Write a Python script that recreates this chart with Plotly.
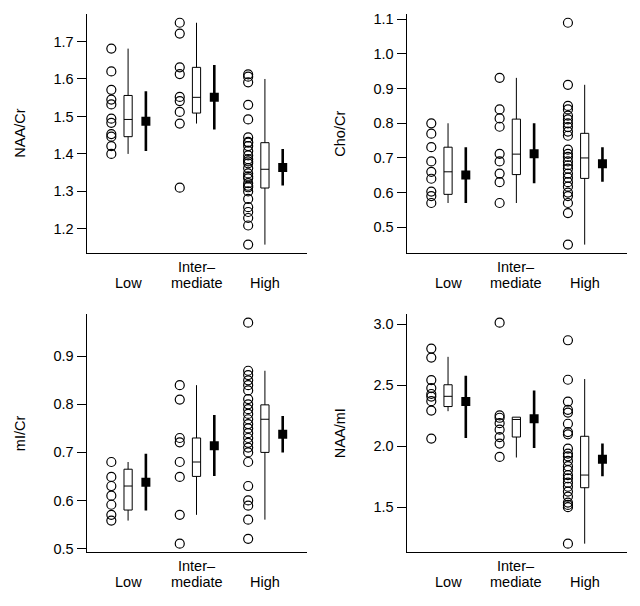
import plotly.graph_objects as go

groups = ["Low", "Inter–<br>mediate", "High"]
group_pos = [1, 2, 3]

# ---- NAA/Cr ----
naa_cr_low = [1.681, 1.620, 1.571, 1.545, 1.532, 1.494, 1.483, 1.453, 1.446, 1.421, 1.400]
naa_cr_int = [1.750, 1.721, 1.631, 1.613, 1.552, 1.541, 1.512, 1.481, 1.310]
naa_cr_high = [1.612, 1.606, 1.591, 1.531, 1.492, 1.444, 1.432, 1.421, 1.408, 1.396, 1.386,
               1.375, 1.362, 1.348, 1.335, 1.322, 1.311, 1.300, 1.280, 1.258, 1.245, 1.229,
               1.209, 1.158, 1.430, 1.380, 1.340, 1.315]
naa_cr_q1 = [1.446, 1.509, 1.309]
naa_cr_med = [1.492, 1.551, 1.359]
naa_cr_q3 = [1.556, 1.631, 1.430]
naa_cr_lo = [1.400, 1.481, 1.158]
naa_cr_hi = [1.681, 1.750, 1.600]
naa_cr_mean = [1.487, 1.551, 1.364]
naa_cr_ci_lo = [1.408, 1.465, 1.316]
naa_cr_ci_hi = [1.567, 1.637, 1.413]

# ---- Cho/Cr ----
cho_cr_low = [0.800, 0.770, 0.731, 0.690, 0.660, 0.640, 0.603, 0.590, 0.570]
cho_cr_int = [0.931, 0.840, 0.814, 0.790, 0.712, 0.690, 0.655, 0.630, 0.570]
cho_cr_high = [1.090, 0.911, 0.850, 0.840, 0.822, 0.811, 0.800, 0.789, 0.776, 0.764, 0.724,
               0.712, 0.703, 0.690, 0.679, 0.669, 0.655, 0.643, 0.630, 0.617, 0.600, 0.590,
               0.570, 0.541, 0.450]
cho_cr_q1 = [0.595, 0.652, 0.641]
cho_cr_med = [0.660, 0.711, 0.700]
cho_cr_q3 = [0.731, 0.812, 0.771]
cho_cr_lo = [0.570, 0.570, 0.450]
cho_cr_hi = [0.800, 0.931, 0.911]
cho_cr_mean = [0.651, 0.712, 0.683]
cho_cr_ci_lo = [0.570, 0.627, 0.631]
cho_cr_ci_hi = [0.731, 0.800, 0.731]

# ---- mI/Cr ----
mi_cr_low = [0.680, 0.649, 0.630, 0.610, 0.591, 0.570, 0.558]
mi_cr_int = [0.840, 0.810, 0.730, 0.721, 0.680, 0.649, 0.570, 0.510]
mi_cr_high = [0.970, 0.870, 0.861, 0.850, 0.840, 0.829, 0.811, 0.800, 0.790, 0.780, 0.769,
              0.759, 0.750, 0.740, 0.730, 0.720, 0.710, 0.700, 0.680, 0.630, 0.600, 0.589,
              0.560, 0.520]
mi_cr_q1 = [0.580, 0.650, 0.700]
mi_cr_med = [0.630, 0.680, 0.769]
mi_cr_q3 = [0.665, 0.730, 0.799]
mi_cr_lo = [0.558, 0.570, 0.560]
mi_cr_hi = [0.680, 0.840, 0.870]
mi_cr_mean = [0.638, 0.714, 0.738]
mi_cr_ci_lo = [0.579, 0.651, 0.700]
mi_cr_ci_hi = [0.697, 0.778, 0.776]

# ---- NAA/mI ----
naa_mi_low = [2.802, 2.728, 2.543, 2.478, 2.429, 2.408, 2.370, 2.293, 2.063]
naa_mi_int = [3.014, 2.253, 2.234, 2.190, 2.136, 2.076, 2.022, 1.913]
naa_mi_high = [2.870, 2.546, 2.367, 2.299, 2.277, 2.185, 2.117, 2.098, 1.981, 1.940, 1.918,
               1.880, 1.837, 1.804, 1.764, 1.736, 1.701, 1.668, 1.628, 1.587, 1.538, 1.519,
               1.500, 1.201]
naa_mi_q1 = [2.326, 2.076, 1.660]
naa_mi_med = [2.410, 2.220, 1.764]
naa_mi_q3 = [2.505, 2.239, 2.082]
naa_mi_lo = [2.288, 1.908, 1.201]
naa_mi_hi = [2.734, 2.239, 2.552]
naa_mi_mean = [2.367, 2.226, 1.894]
naa_mi_ci_lo = [2.068, 1.986, 1.755]
naa_mi_ci_hi = [2.579, 2.457, 2.022]

y_titles = ["NAA/Cr", "Cho/Cr", "mI/Cr", "NAA/mI"]
y_dticks = [0.1, 0.1, 0.1, 0.5]

panels = [
    dict(pts=[naa_cr_low, naa_cr_int, naa_cr_high], q1=naa_cr_q1, med=naa_cr_med, q3=naa_cr_q3,
         lo=naa_cr_lo, hi=naa_cr_hi, mean=naa_cr_mean, cil=naa_cr_ci_lo, cih=naa_cr_ci_hi),
    dict(pts=[cho_cr_low, cho_cr_int, cho_cr_high], q1=cho_cr_q1, med=cho_cr_med, q3=cho_cr_q3,
         lo=cho_cr_lo, hi=cho_cr_hi, mean=cho_cr_mean, cil=cho_cr_ci_lo, cih=cho_cr_ci_hi),
    dict(pts=[mi_cr_low, mi_cr_int, mi_cr_high], q1=mi_cr_q1, med=mi_cr_med, q3=mi_cr_q3,
         lo=mi_cr_lo, hi=mi_cr_hi, mean=mi_cr_mean, cil=mi_cr_ci_lo, cih=mi_cr_ci_hi),
    dict(pts=[naa_mi_low, naa_mi_int, naa_mi_high], q1=naa_mi_q1, med=naa_mi_med, q3=naa_mi_q3,
         lo=naa_mi_lo, hi=naa_mi_hi, mean=naa_mi_mean, cil=naa_mi_ci_lo, cih=naa_mi_ci_hi),
]

W, H = 640, 606
# panel plotting regions in pixels (left, right, top, bottom)
regions = [(86.7, 307, 12, 254), (406.7, 626.7, 12, 254),
           (86.7, 307, 315, 556), (406.7, 626.7, 315, 556)]

FONT = "Liberation Sans, Arial, Helvetica, sans-serif"
FS = 14.5
fig = go.Figure()
layout = dict(width=W, height=H, margin=dict(l=0, r=0, t=0, b=0),
              paper_bgcolor="white", plot_bgcolor="white", showlegend=False,
              font=dict(family=FONT, size=FS, color="black"))
annotations = []

for i, p in enumerate(panels):
    n = i + 1
    xa = "x" if n == 1 else f"x{n}"
    ya = "y" if n == 1 else f"y{n}"
    # points
    for g, vals in enumerate(p["pts"]):
        fig.add_trace(go.Scatter(x=[group_pos[g] - 0.245] * len(vals), y=vals, mode="markers",
                                 marker=dict(symbol="circle-open", size=9, color="black",
                                             line=dict(width=1.2, color="black")),
                                 xaxis=xa, yaxis=ya, hoverinfo="skip"))
    # boxes
    fig.add_trace(go.Box(x=group_pos, q1=p["q1"], median=p["med"], q3=p["q3"],
                         lowerfence=p["lo"], upperfence=p["hi"], width=0.12,
                         whiskerwidth=0, boxpoints=False, fillcolor="white",
                         line=dict(color="black", width=1), xaxis=xa, yaxis=ya))
    # mean and CI
    fig.add_trace(go.Scatter(x=[gp + 0.26 for gp in group_pos], y=p["mean"], mode="markers",
                             marker=dict(symbol="square", size=9, color="black"),
                             error_y=dict(type="data", symmetric=False,
                                          array=[h - m for h, m in zip(p["cih"], p["mean"])],
                                          arrayminus=[m - l for m, l in zip(p["mean"], p["cil"])],
                                          thickness=2.6, width=0, color="black"),
                             xaxis=xa, yaxis=ya))
    allv = [v for vals in p["pts"] for v in vals]
    lo, hi = min(allv), max(allv)
    pad = 0.04 * (hi - lo)
    L, R, T, B = regions[i]
    xkey = "xaxis" if n == 1 else f"xaxis{n}"
    ykey = "yaxis" if n == 1 else f"yaxis{n}"
    layout[xkey] = dict(domain=[L / W, R / W], range=[0.395, 3.615], showline=True,
                        linecolor="black", linewidth=1.2, showticklabels=False, ticks="",
                        showgrid=False, zeroline=False, anchor=ya)
    layout[ykey] = dict(domain=[1 - B / H, 1 - T / H], range=[lo - pad, hi + pad],
                        showline=True, linecolor="black", linewidth=1.2, ticks="outside",
                        ticklen=9, tickwidth=1.2, tickcolor="black", dtick=y_dticks[i],
                        tickformat=".1f", showgrid=False, zeroline=False, anchor=xa,
                        tickfont=dict(size=FS, family=FONT))
    # y title
    annotations.append(dict(text=y_titles[i], x=(L - 66.7) / W, y=1 - (T + B) / 2 / H,
                            xref="paper", yref="paper", textangle=-90, showarrow=False,
                            xanchor="center", yanchor="middle", font=dict(size=FS)))
    # category labels
    for g, lab in enumerate(groups):
        parts = lab.split("<br>")
        for k, part in enumerate(reversed(parts)):
            annotations.append(dict(text=part, x=group_pos[g], xref=xa,
                                    y=1 - (B + 30 - 16.5 * k) / H, yref="paper",
                                    showarrow=False, xanchor="center", yanchor="middle",
                                    font=dict(size=FS)))

layout["annotations"] = annotations
fig.update_layout(**layout)
fig.write_html("out.html", config={"displayModeBar": False},
               post_script="document.body.style.margin='0';")
